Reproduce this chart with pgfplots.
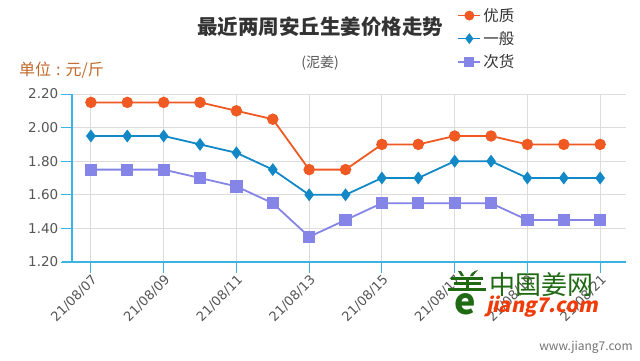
\documentclass[border=0pt]{standalone}
\usepackage{pgfplots}
\pgfplotsset{compat=1.18}
\usepackage{fontspec}
\setmainfont{Noto Sans CJK SC}
\newfontfamily\tickfont{DejaVu Sans}
\definecolor{cA}{HTML}{F05A22}
\definecolor{cB}{HTML}{1289C6}
\definecolor{cC}{HTML}{8585E8}
\definecolor{axcyan}{HTML}{3BB2E3}
\definecolor{gridgray}{HTML}{DCDCDC}
\definecolor{tickgray}{HTML}{555555}
\definecolor{unitc}{HTML}{C2692A}
\definecolor{logogreen}{HTML}{1F6A12}
\definecolor{logored}{HTML}{F03C0A}
\begin{document}
\begin{tikzpicture}[x=1pt,y=1pt]
\path[use as bounding box, fill=white] (0,0) rectangle (640,360);
\begin{axis}[
  at={(72pt,98pt)}, anchor=south west, scale only axis,
  width=554pt, height=168pt,
  xmin=6.48, xmax=21.71, ymin=1.2, ymax=2.2,
  axis x line*=bottom, axis y line*=left,
  axis line style={axcyan, line width=1.1pt, -},
  x axis line style={shorten <=-10pt},
  xtick={7,9,11,13,15,17,19,21},
  xticklabels={21/08/07,21/08/09,21/08/11,21/08/13,21/08/15,21/08/17,21/08/19,21/08/21},
  x tick label style={rotate=45, anchor=north east, inner sep=1pt, font=\tickfont\fontsize{13}{15}\selectfont},
  ytick={1.2,1.4,1.6,1.8,2.0,2.2},
  y tick label style={font=\tickfont\fontsize{13.5}{15}\selectfont, inner sep=3pt,
    /pgf/number format/fixed, /pgf/number format/fixed zerofill, /pgf/number format/precision=2},
  /pgf/number format/assume math mode=true,
  tick align=outside, major tick length=10.5pt,
  tick style={color=axcyan, line width=1pt},
  grid=major, major grid style={color=gridgray, line width=0.9pt},
  ticklabel style={color=tickgray},
  legend style={at={(0.69,1.535)}, anchor=north west, draw=none, fill=none,
    font=\fontsize{15.5}{17}\selectfont, row sep=4.5pt, text=black!80},
  legend cell align=left,
  legend image code/.code={\draw[mark repeat=2,mark phase=2, mark size=4pt] plot coordinates {(0pt,0pt)(11pt,0pt)(22pt,0pt)};},
]
\addplot[color=cA, line width=1.8pt, mark=*, mark size=4.8pt, mark options={solid}] coordinates {
(7,2.15)(8,2.15)(9,2.15)(10,2.15)(11,2.10)(12,2.05)(13,1.75)(14,1.75)(15,1.90)(16,1.90)(17,1.95)(18,1.95)(19,1.90)(20,1.90)(21,1.90)};
\addlegendentry{优质}
\addplot[color=cB, line width=1.8pt, mark=diamond*, mark size=5pt, mark options={solid}] coordinates {
(7,1.95)(8,1.95)(9,1.95)(10,1.90)(11,1.85)(12,1.75)(13,1.60)(14,1.60)(15,1.70)(16,1.70)(17,1.80)(18,1.80)(19,1.70)(20,1.70)(21,1.70)};
\addlegendentry{一般}
\addplot[color=cC, line width=1.8pt, mark=square*, mark size=5.2pt, mark options={solid}] coordinates {
(7,1.75)(8,1.75)(9,1.75)(10,1.70)(11,1.65)(12,1.55)(13,1.35)(14,1.45)(15,1.55)(16,1.55)(17,1.55)(18,1.55)(19,1.45)(20,1.45)(21,1.45)};
\addlegendentry{次货}
\end{axis}
\node[font=\fontsize{20.5}{22}\selectfont\bfseries, text=black!80] at (320,333) {最近两周安丘生姜价格走势};
\node[font=\fontsize{14}{16}\selectfont, text=black!65] at (320,297) {(泥姜)};
\node[font=\fontsize{16}{18}\selectfont, text=unitc, anchor=west, inner sep=0pt] at (19,290) {单位\hspace{5pt}:\hspace{5pt}{}元/斤};
% watermark logo
\fill[logogreen] (451,83.5) rectangle (483,80.5);
\fill[logogreen] (454,78) rectangle (481,75);
\fill[logogreen] (448,72.5) rectangle (486,69);
\fill[logogreen] (465.5,83.5) rectangle (468.5,69);
\fill[logogreen] (458,89) -- (461,89) -- (464,84) -- (461,84) -- cycle;
\fill[logogreen] (478,90) .. controls (474,89) and (471,87) .. (470,84) -- (473,84) .. controls (474,86) and (476,88) .. (478,90) -- cycle;
\node[font=\fontsize{36}{38}\selectfont\bfseries\itshape, text=logogreen] at (465,56) {e};
\node[font=\fontsize{26}{28}\selectfont, text=logogreen, anchor=west, inner sep=0pt] at (489,75) {中国姜网};
\node[font=\fontsize{20}{22}\selectfont\bfseries, text=logored, anchor=west, inner sep=0pt, xslant=0.2] at (487,53) {jiang7.com};
\node[font=\fontsize{12}{14}\selectfont, text=black!55, anchor=east, inner sep=0pt] at (633,13) {www.jiang7.com};
\end{tikzpicture}
\end{document}
